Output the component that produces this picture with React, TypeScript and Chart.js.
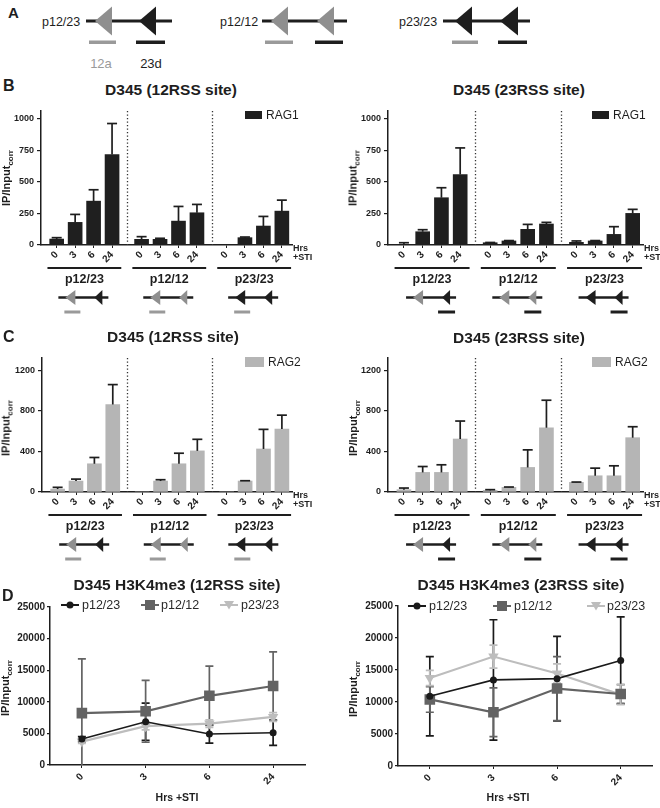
import React, { useEffect, useRef } from "react";
import { Chart, registerables } from "chart.js";
Chart.register(...registerables);

const FONT = "'Liberation Sans', Arial, Helvetica, sans-serif";
const INK = "#1e1e1e";
const GREY_TRI = "#8f8f8f";
const GREY_BAR = "#9a9a9a";
const RAG1_COLOR = "#1f1f1f";
const RAG2_COLOR = "#b5b5b5";

// ---------------- data ----------------
const hours = ["0", "3", "6", "24"];
const genotypes = ["p12/23", "p12/12", "p23/23"];

const rag1Ticks = [0, 250, 500, 750, 1000];
const rag2Ticks = [0, 400, 800, 1200];
const h3Ticks = [0, 5000, 10000, 15000, 20000, 25000];

// bar values, order: p12/23 (0,3,6,24) | p12/12 (0,3,6,24) | p23/23 (0,3,6,24)
const rag1Site12 = [47, 179, 347, 716, 45, 45, 189, 255, 0, 58, 150, 268];
const rag1Site12Err = [11, 63, 90, 245, 21, 8, 116, 66, 0, 5, 76, 87];
const rag1Site23 = [5, 105, 374, 558, 18, 32, 124, 166, 21, 32, 84, 250];
const rag1Site23Err = [13, 16, 79, 210, 2, 3, 39, 13, 11, 3, 61, 32];
const rag2Site12 = [29, 108, 278, 862, 0, 108, 278, 405, 0, 108, 424, 620];
const rag2Site12Err = [17, 19, 62, 196, 0, 13, 104, 114, 0, 3, 193, 137];
const rag2Site23 = [23, 193, 193, 522, 16, 46, 242, 633, 95, 160, 160, 535];
const rag2Site23Err = [16, 58, 75, 177, 7, 3, 173, 271, 3, 75, 98, 108];

// H3K4me3, 12RSS site
const h3Site12P1223 = [4100, 6850, 4900, 5100];
const h3Site12P1223Err = [400, 2950, 1450, 2000];
const h3Site12P1212 = [8200, 8500, 10950, 12500];
const h3Site12P1212Err = [8600, 4900, 4700, 5400];
const h3Site12P2323 = [3700, 6150, 6550, 7600];
const h3Site12P2323Err = [300, 600, 600, 700];
// H3K4me3, 23RSS site
const h3Site23P1223 = [10900, 13450, 13650, 16500];
const h3Site23P1223Err = [6200, 9400, 6600, 6800];
const h3Site23P1212 = [10400, 8400, 12100, 11250];
const h3Site23P1212Err = [2000, 3800, 5000, 1450];
const h3Site23P2323 = [13750, 17100, 14450, 11150];
const h3Site23P2323Err = [1200, 1800, 1500, 1550];

const GROUP_STEP = 4.6;
const barPos = (k: number) => Math.floor(k / 4) * GROUP_STEP + (k % 4);

const miniKinds: Record<string, string[]> = {
  "p12/23": [GREY_TRI, INK],
  "p12/12": [GREY_TRI, GREY_TRI],
  "p23/23": [INK, INK],
};

function drawTri(ctx: any, apex: number, base: number, cy: number, half: number, color: string) {
  ctx.fillStyle = color;
  ctx.beginPath();
  ctx.moveTo(apex, cy);
  ctx.lineTo(base, cy - half);
  ctx.lineTo(base, cy + half);
  ctx.closePath();
  ctx.fill();
}

function drawMini(ctx: any, cx: number, cy: number, geno: string, site: number) {
  const [c1, c2] = miniKinds[geno];
  ctx.setLineDash([]);
  ctx.strokeStyle = INK;
  ctx.lineWidth = 2.6;
  ctx.beginPath();
  ctx.moveTo(cx - 25, cy);
  ctx.lineTo(cx + 25, cy);
  ctx.stroke();
  drawTri(ctx, cx - 18, cx - 8, cy, 7.5, c1);
  drawTri(ctx, cx + 11, cx + 19, cy, 7.5, c2);
  if (site === 0) {
    ctx.fillStyle = GREY_BAR;
    ctx.fillRect(cx - 19, cy + 13, 16, 3);
  } else {
    ctx.fillStyle = INK;
    ctx.fillRect(cx + 7, cy + 13, 17, 3);
  }
}

function makeBarPlugin(values: number[], errs: number[], site: number) {
  return {
    id: "barExtras",
    afterDatasetsDraw(chart: any) {
      const { ctx } = chart;
      const ys = chart.scales.y;
      const meta = chart.getDatasetMeta(0);
      ctx.save();
      ctx.strokeStyle = INK;
      ctx.lineWidth = 1.7;
      meta.data.forEach((el: any, k: number) => {
        const e = errs[k];
        if (!e) return;
        const x = el.x;
        const y0 = ys.getPixelForValue(values[k]);
        const y1 = ys.getPixelForValue(values[k] + e);
        ctx.beginPath();
        ctx.moveTo(x, y0);
        ctx.lineTo(x, y1);
        ctx.stroke();
        ctx.beginPath();
        ctx.moveTo(x - 5, y1);
        ctx.lineTo(x + 5, y1);
        ctx.stroke();
      });
      ctx.restore();
    },
    afterDraw(chart: any) {
      const { ctx, chartArea: ca } = chart;
      const xs = chart.scales.x;
      ctx.save();
      // dotted separators
      ctx.strokeStyle = "#333";
      ctx.lineWidth = 1.3;
      ctx.setLineDash([1.3, 2.2]);
      for (let g = 1; g < 3; g++) {
        const sx = Math.round(xs.getPixelForValue(g * GROUP_STEP - (GROUP_STEP - 3) / 2)) + 0.5;
        ctx.beginPath();
        ctx.moveTo(sx, ca.top);
        ctx.lineTo(sx, ca.bottom);
        ctx.stroke();
      }
      ctx.setLineDash([]);
      // group underline, label, mini diagram
      genotypes.forEach((geno, g) => {
        const a = xs.getPixelForValue(g * GROUP_STEP - 0.5);
        const b = xs.getPixelForValue(g * GROUP_STEP + 3.5);
        const c = xs.getPixelForValue(g * GROUP_STEP + 1.5);
        ctx.strokeStyle = INK;
        ctx.lineWidth = 1.8;
        ctx.beginPath();
        ctx.moveTo(a, ca.bottom + 23);
        ctx.lineTo(b, ca.bottom + 23);
        ctx.stroke();
        ctx.fillStyle = INK;
        ctx.font = `bold 12.5px ${FONT}`;
        ctx.textAlign = "center";
        ctx.textBaseline = "middle";
        ctx.fillText(geno, c, ca.bottom + 35);
        drawMini(ctx, c - 1, ca.bottom + 52.5, geno, site);
      });
      // Hrs +STI
      ctx.fillStyle = INK;
      ctx.font = `bold 9px ${FONT}`;
      ctx.textAlign = "left";
      ctx.textBaseline = "middle";
      ctx.fillText("Hrs", ca.right + 1, ca.bottom + 4);
      ctx.fillText("+STI", ca.right + 1, ca.bottom + 13);
      ctx.restore();
    },
  };
}

type BarSpec = {
  values: number[];
  errs: number[];
  color: string;
  yMax: number;
  yTicks: number[];
  yWidth: number;
  padTop: number;
  padRight: number;
  xHeight: number;
  site: number;
};

function barConfig(p: BarSpec): any {
  const pts = p.values.map((v, k) => ({ x: barPos(k), y: v }));
  const tickPos = p.values.map((_, k) => barPos(k));
  return {
    type: "bar",
    data: {
      datasets: [{ data: pts, backgroundColor: p.color, borderWidth: 0, barThickness: 14 }],
    },
    options: {
      animation: false,
      responsive: false,
      devicePixelRatio: 1,
      events: [],
      layout: { padding: { left: 0, top: p.padTop, right: p.padRight, bottom: 0 } },
      plugins: { legend: { display: false }, tooltip: { enabled: false }, title: { display: false } },
      scales: {
        x: {
          type: "linear",
          min: -0.85,
          max: 12.75,
          offset: false,
          afterBuildTicks: (ax: any) => {
            ax.ticks = tickPos.map((v) => ({ value: v }));
          },
          afterFit: (ax: any) => {
            ax.height = p.xHeight;
            ax.paddingLeft = 0;
            ax.paddingRight = 0;
          },
          ticks: {
            autoSkip: false,
            minRotation: 45,
            maxRotation: 45,
            padding: 1,
            color: INK,
            font: { family: FONT, size: 10, weight: "bold" },
            callback: (_v: any, i: number) => hours[i % 4],
          },
          grid: { display: true, drawOnChartArea: false, drawTicks: true, tickLength: 3, color: INK, lineWidth: 1, offset: false },
          border: { display: true, color: INK, width: 1.5 },
        },
        y: {
          min: 0,
          max: p.yMax,
          afterBuildTicks: (ax: any) => {
            ax.ticks = p.yTicks.map((v) => ({ value: v }));
          },
          afterFit: (ax: any) => {
            ax.width = p.yWidth;
            ax.paddingTop = 0;
            ax.paddingBottom = 0;
          },
          ticks: {
            color: INK,
            padding: 3,
            font: { family: FONT, size: 9, weight: "bold" },
            callback: (v: any) => String(v),
          },
          grid: { drawOnChartArea: false, drawTicks: true, tickLength: 4, color: INK, lineWidth: 1.2 },
          border: { display: true, color: INK, width: 1.5 },
        },
      },
    },
    plugins: [makeBarPlugin(p.values, p.errs, p.site)],
  };
}

const lineStyles = [
  { color: "#1a1a1a", style: "circle", radius: 3.5, rot: 0, width: 1.6 },
  { color: "#636363", style: "rect", radius: 7.5, rot: 0, width: 2.2 },
  { color: "#bdbdbd", style: "triangle", radius: 6, rot: 180, width: 2.2 },
];

function makeLineErrPlugin(errs: number[][]) {
  return {
    id: "lineErr",
    beforeDatasetsDraw(chart: any) {
      const { ctx, chartArea: ca } = chart;
      const ys = chart.scales.y;
      ctx.save();
      ctx.beginPath();
      ctx.rect(ca.left, ca.top - 3, ca.right - ca.left, ca.bottom - ca.top + 3);
      ctx.clip();
      chart.data.datasets.forEach((ds: any, i: number) => {
        const meta = chart.getDatasetMeta(i);
        ctx.strokeStyle = ds.borderColor;
        ctx.lineWidth = 1.7;
        meta.data.forEach((el: any, k: number) => {
          const v = ds.data[k];
          const e = errs[i][k];
          const yt = ys.getPixelForValue(v + e);
          const yb = ys.getPixelForValue(Math.max(0, v - e));
          ctx.beginPath();
          ctx.moveTo(el.x, yt);
          ctx.lineTo(el.x, yb);
          ctx.moveTo(el.x - 4, yt);
          ctx.lineTo(el.x + 4, yt);
          if (v - e > 0) {
            ctx.moveTo(el.x - 4, yb);
            ctx.lineTo(el.x + 4, yb);
          }
          ctx.stroke();
        });
      });
      ctx.restore();
    },
  };
}

type LineSpec = {
  series: number[][];
  errs: number[][];
  yWidth: number;
  padTop: number;
  padRight: number;
  xHeight: number;
};

function lineConfig(p: LineSpec): any {
  return {
    type: "line",
    data: {
      labels: hours,
      datasets: p.series.map((d, i) => {
        const s = lineStyles[i];
        return {
          label: genotypes[i],
          data: d,
          borderColor: s.color,
          backgroundColor: s.color,
          pointBackgroundColor: s.color,
          pointBorderColor: s.color,
          pointBorderWidth: 0,
          pointStyle: s.style,
          pointRadius: s.radius,
          pointRotation: s.rot,
          borderWidth: s.width,
          tension: 0,
          fill: false,
        };
      }),
    },
    options: {
      animation: false,
      responsive: false,
      devicePixelRatio: 1,
      events: [],
      layout: { padding: { left: 0, top: p.padTop, right: p.padRight, bottom: 0 } },
      plugins: { legend: { display: false }, tooltip: { enabled: false } },
      scales: {
        x: {
          type: "category",
          offset: true,
          afterFit: (ax: any) => {
            ax.height = p.xHeight;
            ax.paddingLeft = 0;
            ax.paddingRight = 0;
          },
          ticks: {
            autoSkip: false,
            minRotation: 45,
            maxRotation: 45,
            padding: 3,
            color: INK,
            font: { family: FONT, size: 10, weight: "bold" },
          },
          grid: { display: true, drawOnChartArea: false, drawTicks: true, tickLength: 3, color: INK, offset: false },
          border: { display: true, color: INK, width: 1.5 },
        },
        y: {
          min: 0,
          max: 25000,
          afterBuildTicks: (ax: any) => {
            ax.ticks = h3Ticks.map((v) => ({ value: v }));
          },
          afterFit: (ax: any) => {
            ax.width = p.yWidth;
            ax.paddingTop = 0;
            ax.paddingBottom = 0;
          },
          ticks: {
            color: INK,
            padding: 2,
            font: { family: FONT, size: 10, weight: "bold" },
            callback: (v: any) => String(v),
          },
          grid: { drawOnChartArea: false, drawTicks: true, tickLength: 3, color: INK, lineWidth: 1.2 },
          border: { display: true, color: INK, width: 1.5 },
        },
      },
    },
    plugins: [makeLineErrPlugin(p.errs)],
  };
}

function ChartBox({ left, top, width, height, make }: any) {
  const ref = useRef<HTMLCanvasElement>(null);
  useEffect(() => {
    const chart = new Chart(ref.current as HTMLCanvasElement, make());
    return () => chart.destroy();
  }, []);
  return (
    <canvas
      ref={ref}
      width={width}
      height={height}
      style={{ position: "absolute", left, top, width, height, display: "block" }}
    />
  );
}

function Txt({ x, y, size = 12, bold = false, color = INK, align = "left", children }: any) {
  const tx = align === "center" ? "-50%" : align === "right" ? "-100%" : "0";
  return (
    <div
      style={{
        position: "absolute",
        left: x,
        top: y,
        transform: `translate(${tx}, -50%)`,
        font: `${bold ? "bold " : ""}${size}px ${FONT}`,
        color,
        whiteSpace: "nowrap",
        lineHeight: 1,
      }}
    >
      {children}
    </div>
  );
}

function YTitle({ x, y }: any) {
  return (
    <div
      style={{
        position: "absolute",
        left: x,
        top: y,
        transform: "translate(-50%, -50%) rotate(-90deg)",
        font: `bold 11px ${FONT}`,
        color: INK,
        whiteSpace: "nowrap",
        lineHeight: 1,
      }}
    >
      IP/Input
      <span style={{ fontSize: 8, position: "relative", top: 3 }}>corr</span>
    </div>
  );
}

function BarLegend({ x, y, w, h, color, label }: any) {
  return (
    <>
      <div style={{ position: "absolute", left: x, top: y, width: w, height: h, background: color }} />
      <Txt x={x + w + 4} y={y + h / 2} size={12}>
        {label}
      </Txt>
    </>
  );
}

function LegendSymbol({ i }: any) {
  const s = lineStyles[i];
  let marker: any = null;
  if (s.style === "circle") marker = <circle cx={9} cy={6} r={3.5} fill={s.color} />;
  else if (s.style === "rect") marker = <rect x={4} y={1} width={10} height={10} fill={s.color} />;
  else marker = <polygon points="4,2 14,2 9,10.5" fill={s.color} />;
  return (
    <svg width={18} height={12} style={{ display: "block" }}>
      <line x1={0} y1={6} x2={18} y2={6} stroke={s.color} strokeWidth={2} />
      {marker}
    </svg>
  );
}

function LineLegend({ items, y }: any) {
  return (
    <>
      {items.map((it: any, i: number) => (
        <React.Fragment key={i}>
          <div style={{ position: "absolute", left: it.sx, top: y - 6 }}>
            <LegendSymbol i={i} />
          </div>
          <Txt x={it.tx} y={y} size={12.5} color="#2a2a2a">
            {genotypes[i]}
          </Txt>
        </React.Fragment>
      ))}
    </>
  );
}

function PanelA() {
  const tri = (apex: number, base: number, color: string) => (
    <polygon points={`${apex},21 ${base},6.5 ${base},35.5`} fill={color} />
  );
  return (
    <svg width={660} height={75} style={{ position: "absolute", left: 0, top: 0 }}>
      <text x={42} y={25.5} fontFamily={FONT} fontSize={12.5} fill={INK}>p12/23</text>
      <line x1={86} y1={21} x2={172} y2={21} stroke={INK} strokeWidth={3} />
      {tri(95, 112, GREY_TRI)}
      {tri(139, 156, INK)}
      <rect x={89} y={40.5} width={27} height={3.5} fill={GREY_BAR} />
      <rect x={136} y={40.5} width={29} height={3.5} fill={INK} />
      <text x={101} y={67.5} textAnchor="middle" fontFamily={FONT} fontSize={13} fill="#9a9a9a">12a</text>
      <text x={151} y={67.5} textAnchor="middle" fontFamily={FONT} fontSize={13} fill={INK}>23d</text>

      <text x={220} y={25.5} fontFamily={FONT} fontSize={12.5} fill={INK}>p12/12</text>
      <line x1={262} y1={21} x2={347} y2={21} stroke={INK} strokeWidth={3} />
      {tri(271, 288, GREY_TRI)}
      {tri(317, 334, GREY_TRI)}
      <rect x={265} y={40.5} width={28} height={3.5} fill={GREY_BAR} />
      <rect x={315} y={40.5} width={28} height={3.5} fill={INK} />

      <text x={399} y={25.5} fontFamily={FONT} fontSize={12.5} fill={INK}>p23/23</text>
      <line x1={443} y1={21} x2={530} y2={21} stroke={INK} strokeWidth={3} />
      {tri(455, 472, INK)}
      {tri(500, 518, INK)}
      <rect x={452} y={40.5} width={26} height={3.5} fill={GREY_BAR} />
      <rect x={498} y={40.5} width={29} height={3.5} fill={INK} />
    </svg>
  );
}

export default function App() {
  return (
    <div
      style={{
        position: "absolute",
        left: 0,
        top: 0,
        width: 660,
        height: 808,
        overflow: "hidden",
        background: "#fff",
        fontFamily: FONT,
      }}
    >
      <PanelA />
      <Txt x={8} y={12} size={15} bold>A</Txt>

      {/* B */}
      <ChartBox
        left={0}
        top={100}
        width={330}
        height={222}
        make={() =>
          barConfig({ values: rag1Site12, errs: rag1Site12Err, color: RAG1_COLOR, yMax: 1060, yTicks: rag1Ticks, yWidth: 41, padTop: 11, padRight: 38, xHeight: 77, site: 0 })
        }
      />
      <ChartBox
        left={330}
        top={100}
        width={330}
        height={222}
        make={() =>
          barConfig({ values: rag1Site23, errs: rag1Site23Err, color: RAG1_COLOR, yMax: 1060, yTicks: rag1Ticks, yWidth: 58, padTop: 11, padRight: 17, xHeight: 77, site: 1 })
        }
      />
      <Txt x={3} y={86} size={16} bold>B</Txt>
      <Txt x={171} y={90} size={15.5} bold align="center">D345 (12RSS site)</Txt>
      <Txt x={519} y={90} size={15.5} bold align="center">D345 (23RSS site)</Txt>
      <YTitle x={6} y={178} />
      <YTitle x={353} y={178} />
      <BarLegend x={245} y={111} w={17} h={8} color={RAG1_COLOR} label="RAG1" />
      <BarLegend x={592} y={111} w={17} h={8} color={RAG1_COLOR} label="RAG1" />

      {/* C */}
      <ChartBox
        left={0}
        top={345}
        width={330}
        height={225}
        make={() =>
          barConfig({ values: rag2Site12, errs: rag2Site12Err, color: RAG2_COLOR, yMax: 1320, yTicks: rag2Ticks, yWidth: 42, padTop: 13, padRight: 38, xHeight: 78, site: 0 })
        }
      />
      <ChartBox
        left={330}
        top={345}
        width={330}
        height={225}
        make={() =>
          barConfig({ values: rag2Site23, errs: rag2Site23Err, color: RAG2_COLOR, yMax: 1320, yTicks: rag2Ticks, yWidth: 58, padTop: 13, padRight: 17, xHeight: 78, site: 1 })
        }
      />
      <Txt x={3} y={337} size={16} bold>C</Txt>
      <Txt x={173} y={337} size={15.5} bold align="center">D345 (12RSS site)</Txt>
      <Txt x={519} y={338} size={15.5} bold align="center">D345 (23RSS site)</Txt>
      <YTitle x={6} y={428} />
      <YTitle x={353} y={428} />
      <BarLegend x={245} y={357} w={19} h={10} color={RAG2_COLOR} label="RAG2" />
      <BarLegend x={592} y={357} w={19} h={10} color={RAG2_COLOR} label="RAG2" />

      {/* D */}
      <ChartBox
        left={0}
        top={595}
        width={330}
        height={213}
        make={() =>
          lineConfig({
            series: [h3Site12P1223, h3Site12P1212, h3Site12P2323],
            errs: [h3Site12P1223Err, h3Site12P1212Err, h3Site12P2323Err],
            yWidth: 50,
            padTop: 12,
            padRight: 25,
            xHeight: 43,
          })
        }
      />
      <ChartBox
        left={330}
        top={595}
        width={330}
        height={213}
        make={() =>
          lineConfig({
            series: [h3Site23P1223, h3Site23P1212, h3Site23P2323],
            errs: [h3Site23P1223Err, h3Site23P1212Err, h3Site23P2323Err],
            yWidth: 68,
            padTop: 11,
            padRight: 3,
            xHeight: 42,
          })
        }
      />
      <Txt x={2} y={596} size={16} bold>D</Txt>
      <Txt x={177} y={585} size={15.5} bold align="center">D345 H3K4me3 (12RSS site)</Txt>
      <Txt x={521} y={585} size={15.5} bold align="center">D345 H3K4me3 (23RSS site)</Txt>
      <YTitle x={5} y={688} />
      <YTitle x={353} y={689} />
      <LineLegend y={605} items={[{ sx: 61, tx: 82 }, { sx: 141, tx: 161 }, { sx: 220, tx: 241 }]} />
      <LineLegend y={606} items={[{ sx: 408, tx: 429 }, { sx: 493, tx: 514 }, { sx: 587, tx: 607 }]} />
      <Txt x={177} y={797} size={10.5} bold align="center">Hrs +STI</Txt>
      <Txt x={508} y={797} size={10.5} bold align="center">Hrs +STI</Txt>
    </div>
  );
}
